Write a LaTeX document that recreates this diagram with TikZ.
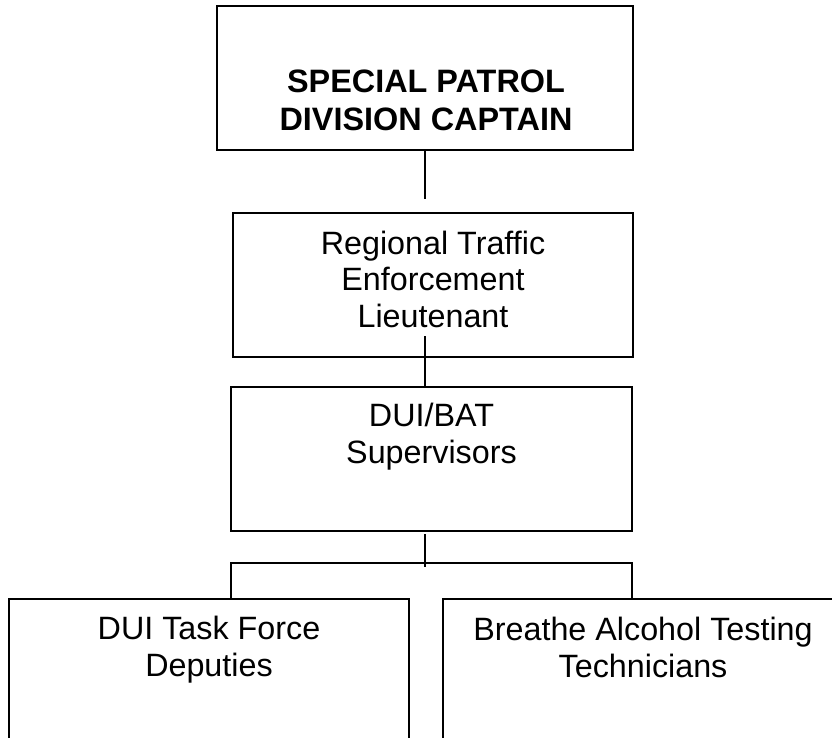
\documentclass[tikz,border=0pt]{standalone}
\usepackage{fontspec}
\setmainfont{Liberation Sans}
\begin{document}
\begin{tikzpicture}[x=1pt,y=-1pt,
  box/.style={draw=black, line width=1.8pt, rectangle, inner sep=0pt, outer sep=0pt},
  conn/.style={draw=black, line width=1.8pt},
  lbl/.style={align=center, anchor=base, inner sep=0pt, font=\fontsize{32.3}{36.5}\selectfont},
  blbl/.style={align=center, anchor=base, inner sep=0pt, font=\fontsize{32.4}{38.5}\selectfont\bfseries}]
\useasboundingbox (0,0) rectangle (832,738);
% boxes
\node[box, minimum width=416pt, minimum height=144pt] (b1) at (425,78) {};
\node[box, minimum width=400pt, minimum height=144pt] (b2) at (433,285) {};
\node[box, minimum width=401pt, minimum height=144pt] (b3) at (431.5,459) {};
\node[box, minimum width=400pt, minimum height=144pt] (b4) at (209,671) {};
\node[box, minimum width=400pt, minimum height=144pt] (b5) at (643,671) {};
% labels (anchored at the baseline of the last line)
\node[blbl] (t1) at (426,131) {SPECIAL PATROL\\DIVISION CAPTAIN};
\node[lbl] (t2) at (433,327) {Regional Traffic\\Enforcement\\Lieutenant};
\node[lbl] (t3) at (431.5,463) {DUI/BAT\\Supervisors};
\node[lbl] (t4) at (209,676) {DUI Task Force\\Deputies};
\node[lbl] (t5) at (643,677) {Breathe Alcohol Testing\\Technicians};
% connector points
\coordinate (c1) at (425,199);
\coordinate (c2) at (425,336);
\coordinate (c3) at (425,534);
\coordinate (c4) at (425,567);
\coordinate (hl) at (231,563);
\coordinate (hr) at (632,563);
% connectors
\draw[conn] (c1 |- b1.south) -- (c1);
\draw[conn] (c2) -- (c2 |- b3.north);
\draw[conn] (c3) -- (c4);
\draw[conn] (hl |- b4.north) -- (hl) -- (hr) -- (hr |- b5.north);
\end{tikzpicture}
\end{document}
